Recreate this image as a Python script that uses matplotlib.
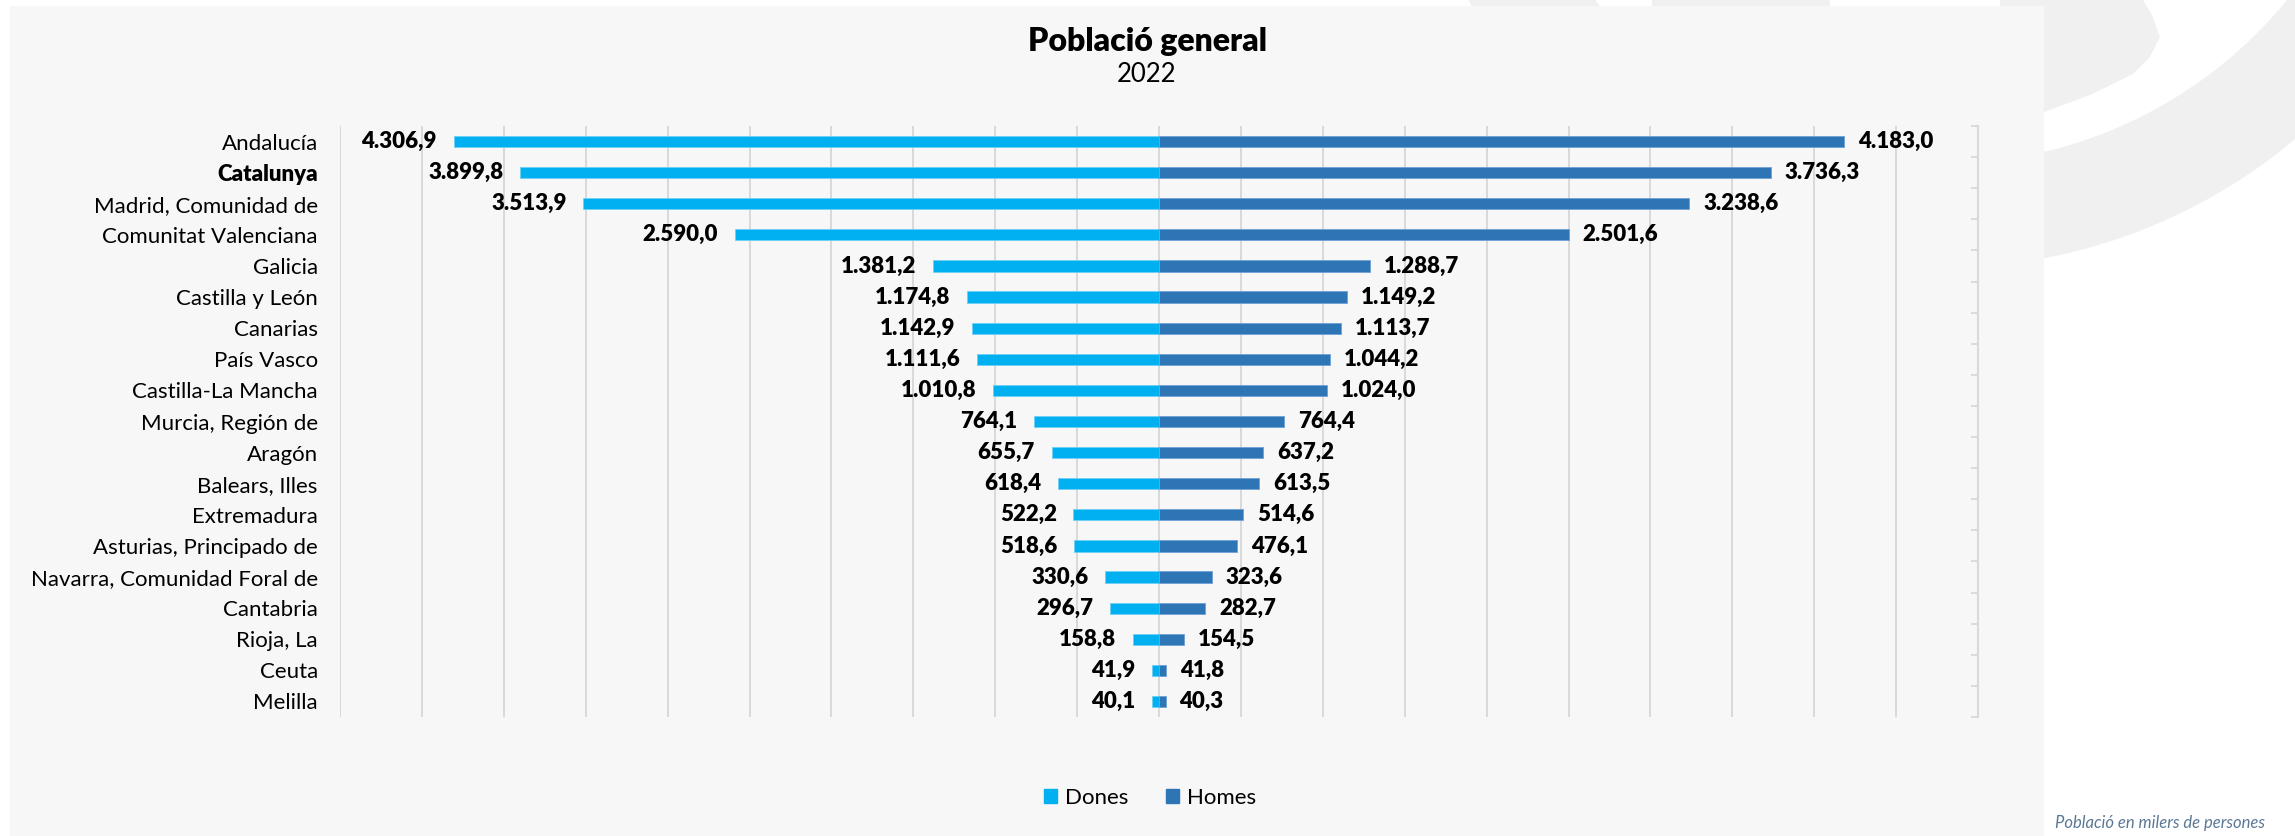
import numpy as np
import matplotlib
matplotlib.use("Agg")
import matplotlib.pyplot as plt
from matplotlib.patches import Rectangle, Wedge, Polygon, Patch

plt.rcParams['font.family'] = ['Lato', 'DejaVu Sans']

# dades (milers de persones, 2022)
comunitats = ['Andalucía', 'Catalunya', 'Madrid, Comunidad de', 'Comunitat Valenciana',
              'Galicia', 'Castilla y León', 'Canarias', 'País Vasco', 'Castilla-La Mancha',
              'Murcia, Región de', 'Aragón', 'Balears, Illes', 'Extremadura',
              'Asturias, Principado de', 'Navarra, Comunidad Foral de', 'Cantabria',
              'Rioja, La', 'Ceuta', 'Melilla']
dones = [4306.9, 3899.8, 3513.9, 2590.0, 1381.2, 1174.8, 1142.9, 1111.6, 1010.8,
         764.1, 655.7, 618.4, 522.2, 518.6, 330.6, 296.7, 158.8, 41.9, 40.1]
homes = [4183.0, 3736.3, 3238.6, 2501.6, 1288.7, 1149.2, 1113.7, 1044.2, 1024.0,
         764.4, 637.2, 613.5, 514.6, 476.1, 323.6, 282.7, 154.5, 41.8, 40.3]
series = ['Dones', 'Homes']

C_DONES = '#00b0f0'
C_HOMES = '#2e75b6'
GRID = '#d9d9d9'
W, H = 2295, 836


def fmt(v):
    # format catala: 4.306,9
    s = '{:,.1f}'.format(v)
    return s.replace(',', 'X').replace('.', ',').replace('X', '.')


fig = plt.figure(figsize=(W / 100, H / 100), dpi=100)
fig.patch.set_facecolor('white')

# fons: logo gris i panell
bg = fig.add_axes([0, 0, 1, 1], zorder=0)
bg.set_xlim(0, W)
bg.set_ylim(H, 0)
bg.axis('off')
bg.add_patch(Wedge((1941, -283), 551, 0, 360, width=104, fc='#f0f0f0', ec='none'))
bg.add_patch(Polygon([(1652, -5), (1830, -5), (1830, 20), (1652, 20)], fc='#f0f0f0', ec='none'))
bg.add_patch(Polygon([(2040, -5), (2140, -5), (2152, 15), (2160, 37), (2150, 57),
                      (2133, 74), (2090, 95), (2044, 112), (2000, 112), (2000, -5)],
                     fc='#f0f0f0', ec='none'))
bg.add_patch(Rectangle((10, 6), 2034, 830, fc='#f7f7f7', ec='none'))

ax = fig.add_axes([340 / W, 1 - 717 / H, 1638 / W, 591 / H], zorder=1)
ax.set_facecolor('none')

y = np.arange(len(comunitats))
d = np.array(dones)
h = np.array(homes)
ax.barh(y, -d, height=0.36, color=C_DONES, edgecolor='#6fd0f5', linewidth=0.6, zorder=3)
ax.barh(y, h, height=0.36, color=C_HOMES, edgecolor='#6fa0d6', linewidth=0.6, zorder=3)

for i in range(len(comunitats)):
    ax.annotate(fmt(d[i]), (-d[i], i), xytext=(-12, 0), textcoords='offset points',
                ha='right', va='center', fontsize=16, fontweight='heavy')
    ax.annotate(fmt(h[i]), (h[i], i), xytext=(10, 0), textcoords='offset points',
                ha='left', va='center', fontsize=16, fontweight='heavy')

ax.set_xlim(-5000, 5000)
ax.set_ylim(len(comunitats) - 0.5, -0.5)
ax.set_xticks(np.arange(-5000, 5001, 500))
ax.grid(axis='x', color=GRID, lw=1.4, zorder=0)
ax.tick_params(axis='x', length=0, labelbottom=False)

ax.set_yticks(y, labels=comunitats)
ax.set_yticks(np.arange(-0.5, len(comunitats)), minor=True)
ax.tick_params(axis='y', which='major', length=0, pad=16, labelsize=16)
ax.tick_params(axis='y', which='minor', left=False, right=True, direction='in',
               length=5, width=1.3, color=GRID)
ax.get_yticklabels()[1].set_fontweight('heavy')

for s in ['top', 'bottom', 'left']:
    ax.spines[s].set_visible(False)
ax.spines['right'].set_color(GRID)
ax.spines['right'].set_linewidth(1.5)

fig.text(1148 / W, 1 - 42 / H, 'Població general', ha='center', va='center',
         fontsize=23, fontweight='heavy')
fig.text(1146 / W, 1 - 74 / H, '2022', ha='center', va='center', fontsize=18.5)

handles = [Patch(color=C_DONES), Patch(color=C_HOMES)]
fig.legend(handles, series, loc='center', bbox_to_anchor=(1150 / W, 1 - 798 / H), ncol=2,
           frameon=False, fontsize=16, handlelength=0.6, handleheight=0.6,
           handletextpad=0.35, columnspacing=1.7)

fig.text(2055 / W, 1 - 823 / H, 'Població en milers de persones', ha='left', va='center',
         fontsize=12, style='italic', color='#5b7896')

fig.savefig('out.png', dpi=100)
